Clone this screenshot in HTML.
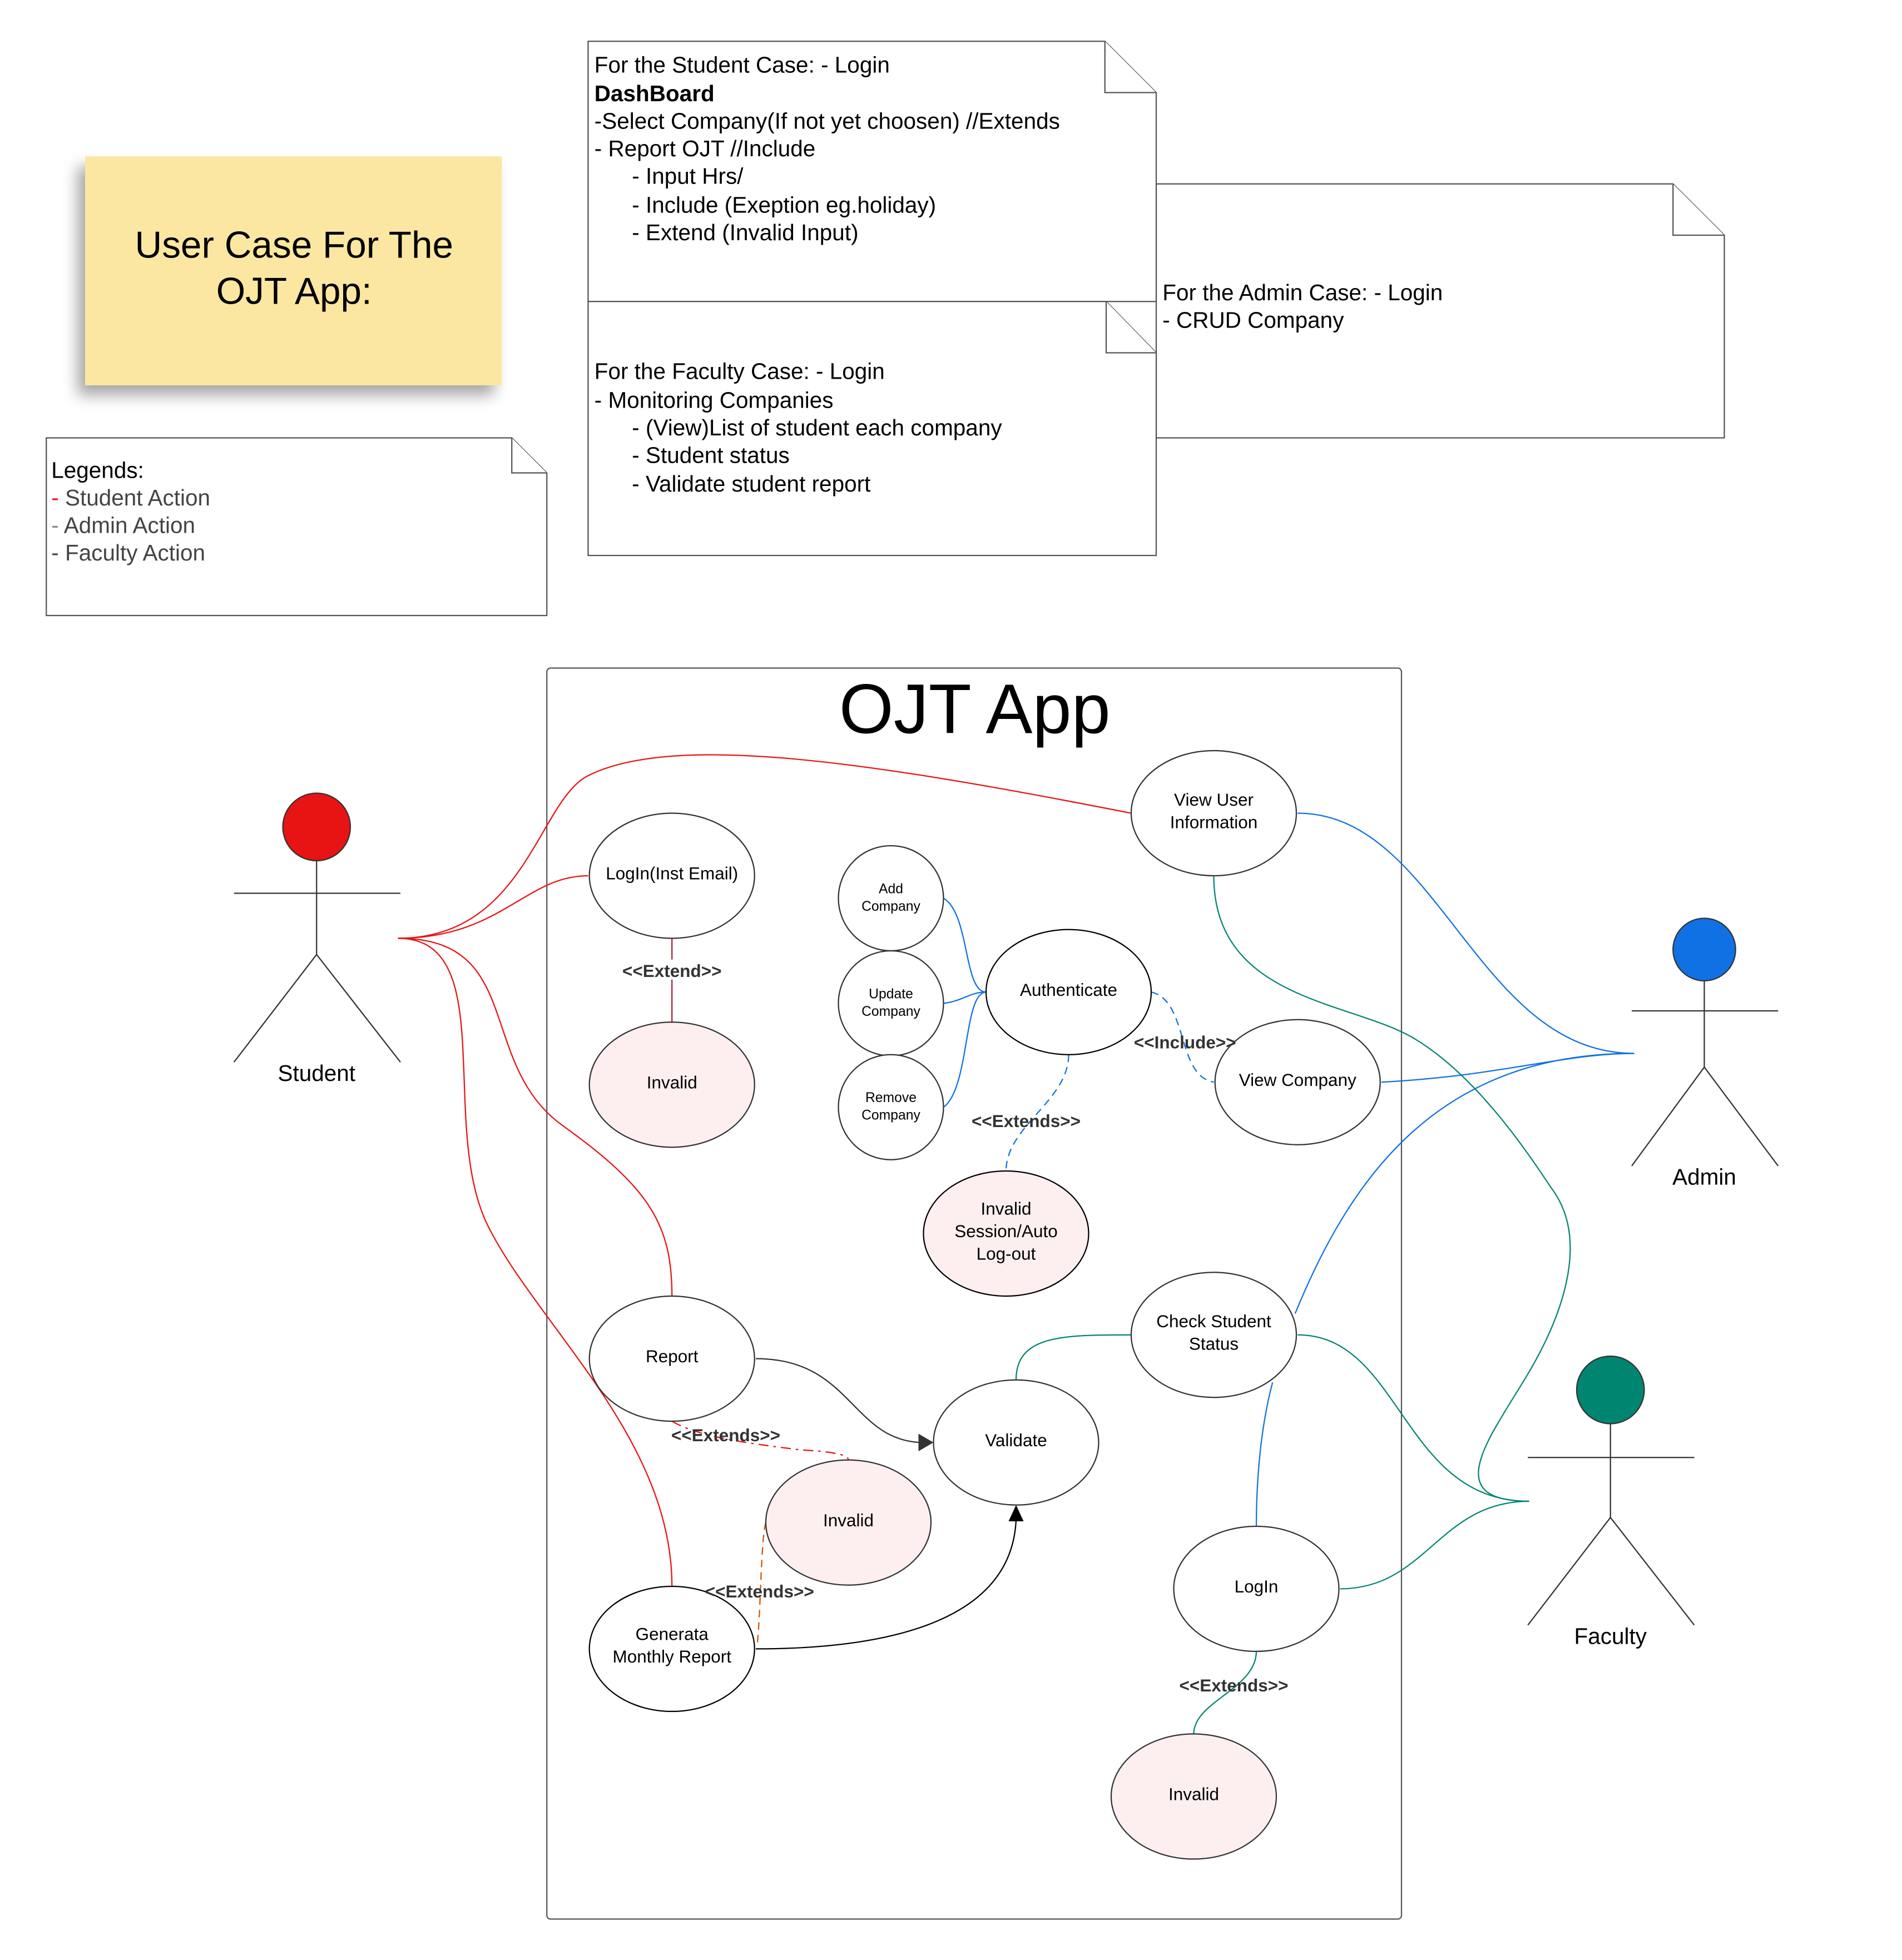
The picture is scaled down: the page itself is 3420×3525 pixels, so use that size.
<!DOCTYPE html>
<html><head><meta charset="utf-8"><style>
html,body{margin:0;padding:0;background:#fff}
svg{display:block}
text{font-family:"Liberation Sans",sans-serif;fill:#000}
.b{font-weight:bold;fill:#333;font-size:14px}
</style></head><body>
<svg width="3420" height="3525" viewBox="0 0 1520 1566.7" preserveAspectRatio="none" xmlns="http://www.w3.org/2000/svg">
<defs>
<filter id="sh" x="-20%" y="-20%" width="140%" height="150%"><feGaussianBlur in="SourceAlpha" stdDeviation="6"/><feOffset dx="-6" dy="8"/><feComponentTransfer><feFuncA type="linear" slope="0.35"/></feComponentTransfer><feMerge><feMergeNode/><feMergeNode in="SourceGraphic"/></feMerge></filter>
</defs>
<rect x="68" y="125" width="333" height="183" fill="#fbe7a1" filter="url(#sh)"/>
<text x="235" y="206" font-size="30" text-anchor="middle">User Case For The</text>
<text x="235" y="243" font-size="30" text-anchor="middle">OJT App:</text>
<g fill="#fff" stroke="#555" stroke-width="1">
<path d="M37 350H409L437 378V492H37Z"/><path d="M409 350V378H437"/>
<path d="M924 147H1337L1378 188V350H924Z"/><path d="M1337 147V188H1378"/>
<path d="M470 33H883L924 74V241H470Z"/><path d="M883 33V74H924"/>
<path d="M470 241H884L924 282V444H470Z"/><path d="M884 241V282H924"/>
</g>
<g font-size="18">
<text x="41" y="382">Legends:</text>
<text x="41" y="404"><tspan fill="#e81313">-</tspan><tspan fill="#444"> Student Action</tspan></text>
<text x="41" y="426"><tspan fill="#888">-</tspan><tspan fill="#444"> Admin Action</tspan></text>
<text x="41" y="448"><tspan fill="#444">- Faculty Action</tspan></text>
<text x="475" y="58">For the Student Case: - Login</text>
<text x="475" y="81" font-weight="bold">DashBoard</text>
<text x="475" y="103">-Select Company(If not yet choosen) //Extends</text>
<text x="475" y="125">- Report OJT //Include</text>
<text x="505" y="147">- Input Hrs/</text>
<text x="505" y="170">- Include (Exeption eg.holiday)</text>
<text x="505" y="192">- Extend (Invalid Input)</text>
<text x="475" y="303">For the Faculty Case: - Login</text>
<text x="475" y="326">- Monitoring Companies</text>
<text x="505" y="348">- (View)List of student each company</text>
<text x="505" y="370">-  Student status</text>
<text x="505" y="393">- Validate student report</text>
<text x="929" y="240">For the Admin Case: - Login</text>
<text x="929" y="262">- CRUD Company</text>
</g>
<rect x="437" y="534" width="683" height="1000" rx="3" fill="none" stroke="#555"/>
<text x="779" y="586" font-size="56" text-anchor="middle">OJT App</text>
<g fill="none" stroke="#e81313" stroke-width="1">
<path d="M318 750C420 750 430 640 470 620C540 585 700 610 904 650"/>
<path d="M318 750C400 750 420 700 470 700"/>
<path d="M318 750C420 750 380 850 450 900C520 950 537 980 537 1036"/>
<path d="M318 750C400 750 350 900 390 980C430 1060 537 1150 537 1268"/>
</g>
<g fill="none" stroke="#1071e5" stroke-width="1">
<path d="M1037 650C1150 650 1180 842 1306 842"/>
<path d="M1104 865C1200 860 1250 842 1306 842"/>
<path d="M1035 1050C1080 940 1150 842 1306 842"/>
<path d="M1017 1105C1005 1150 1004 1200 1004 1220"/>
<path d="M754 718C775 730 770 793 788 793"/>
<path d="M754 802C770 800 775 793 788 793"/>
<path d="M754 885C775 870 770 793 788 793"/>
<path d="M920 793C950 800 940 860 970 865" stroke-dasharray="6 4"/>
<path d="M854 843C854 880 804 900 804 936" stroke-dasharray="6 4"/>
</g>
<g fill="none" stroke="#008571" stroke-width="1">
<path d="M970 700C970 800 1080 800 1130 830C1180 860 1220 920 1240 950C1270 990 1250 1050 1220 1100C1190 1150 1150 1200 1222 1200"/>
<path d="M1037 1067C1120 1067 1120 1200 1222 1200"/>
<path d="M1071 1270C1140 1270 1150 1200 1222 1200"/>
<path d="M812 1103C812 1067 850 1067 904 1067"/>
<path d="M1004 1320C1004 1350 954 1360 954 1386"/>
</g>
<path d="M537 750V817" stroke="#a02030" fill="none"/>
<path d="M604 1086C680 1086 680 1150 735 1153" fill="none" stroke="#333"/>
<path d="M746 1153L734 1146V1160Z" fill="#333"/>
<path d="M604 1318C700 1318 808 1300 812 1215" fill="none" stroke="#000"/>
<path d="M812 1203L806 1216H818Z" fill="#000"/>
<path d="M537 1136C560 1150 610 1155 640 1159C660 1160 678 1162 678 1167" fill="none" stroke="#e81313" stroke-dasharray="8 4 2 4"/>
<path d="M612 1217C608 1230 608 1290 605 1316" fill="none" stroke="#d35400" stroke-dasharray="6 4"/>
<g stroke="#333" stroke-width="1">
<ellipse cx="970" cy="650" rx="66" ry="50" fill="#fff"/>
<ellipse cx="537" cy="700" rx="66" ry="50" fill="#fff"/>
<ellipse cx="537" cy="867" rx="66" ry="50" fill="#fdefef"/>
<ellipse cx="712" cy="718" rx="42" ry="42" fill="#fff"/>
<ellipse cx="712" cy="802" rx="42" ry="42" fill="#fff"/>
<ellipse cx="712" cy="885" rx="42" ry="42" fill="#fff"/>
<ellipse cx="854" cy="793" rx="66" ry="50" fill="#fff" stroke="#000"/>
<ellipse cx="1037" cy="865" rx="66" ry="50" fill="#fff"/>
<ellipse cx="804" cy="986" rx="66" ry="50" fill="#fdefef" stroke="#000"/>
<ellipse cx="970" cy="1067" rx="66" ry="50" fill="#fff"/>
<ellipse cx="537" cy="1086" rx="66" ry="50" fill="#fff"/>
<ellipse cx="812" cy="1153" rx="66" ry="50" fill="#fff"/>
<ellipse cx="678" cy="1217" rx="66" ry="50" fill="#fdefef"/>
<ellipse cx="537" cy="1318" rx="66" ry="50" fill="#fff" stroke="#000"/>
<ellipse cx="1004" cy="1270" rx="66" ry="50" fill="#fff"/>
<ellipse cx="954" cy="1436" rx="66" ry="50" fill="#fdefef"/>
</g>
<g font-size="14" text-anchor="middle">
<text x="970" y="644">View User</text><text x="970" y="662">Information</text>
<text x="537" y="703">LogIn(Inst Email)</text>
<text x="537" y="870">Invalid</text>
<text x="712" y="714" font-size="11">Add</text><text x="712" y="728" font-size="11">Company</text>
<text x="712" y="798" font-size="11">Update</text><text x="712" y="812" font-size="11">Company</text>
<text x="712" y="881" font-size="11">Remove</text><text x="712" y="895" font-size="11">Company</text>
<text x="854" y="796">Authenticate</text>
<text x="1037" y="868">View Company</text>
<text x="804" y="971">Invalid</text><text x="804" y="989">Session/Auto</text><text x="804" y="1007">Log-out</text>
<text x="970" y="1061">Check Student</text><text x="970" y="1079">Status</text>
<text x="537" y="1089">Report</text>
<text x="812" y="1156">Validate</text>
<text x="678" y="1220">Invalid</text>
<text x="537" y="1311">Generata</text><text x="537" y="1329">Monthly Report</text>
<text x="1004" y="1273">LogIn</text>
<text x="954" y="1439">Invalid</text>
</g>
<g text-anchor="middle">
<rect x="494" y="767" width="86" height="16" fill="#fff"/>
<text class="b" x="537" y="781">&lt;&lt;Extend&gt;&gt;</text>
<text class="b" x="947" y="838">&lt;&lt;Include&gt;&gt;</text>
<text class="b" x="820" y="901">&lt;&lt;Extends&gt;&gt;</text>
<text class="b" x="580" y="1152">&lt;&lt;Extends&gt;&gt;</text>
<text class="b" x="607" y="1277">&lt;&lt;Extends&gt;&gt;</text>
<text class="b" x="986" y="1352">&lt;&lt;Extends&gt;&gt;</text>
</g>
<g stroke="#333" fill="none">
<path d="M187 714H320M253 688V763L187 849M253 763L320 849"/>
<path d="M1304 808H1421M1362 784V853L1304 932M1362 853L1421 932"/>
<path d="M1221 1165H1354M1287 1138V1213L1221 1299M1287 1213L1354 1299"/>
</g>
<circle cx="253" cy="661" r="27" fill="#e81313" stroke="#333"/>
<circle cx="1362" cy="759" r="25" fill="#1071e5" stroke="#333"/>
<circle cx="1287" cy="1111" r="27" fill="#008571" stroke="#333"/>
<g font-size="18" text-anchor="middle">
<text x="253" y="864">Student</text>
<text x="1362" y="947">Admin</text>
<text x="1287" y="1314">Faculty</text>
</g>
</svg>
</body></html>
